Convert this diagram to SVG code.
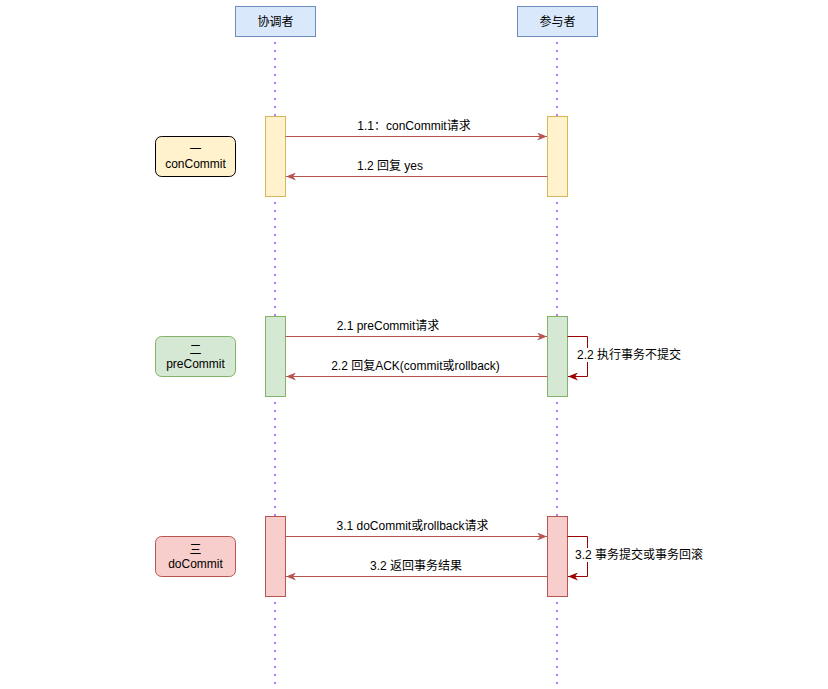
<svg xmlns="http://www.w3.org/2000/svg" width="828" height="689" viewBox="0 0 828 689">
<style>
text{font-family:"Liberation Sans","Noto Sans CJK SC",sans-serif;font-size:12px;fill:#000;}
.c{text-anchor:middle;}
.head{fill:#dae8fc;stroke:#6c8ebf;stroke-width:1;}
.life{stroke:#b47cff;stroke-width:2;stroke-dasharray:2 6;fill:none;}
.y{fill:#fff2cc;stroke:#d6b656;}
.g{fill:#d5e8d4;stroke:#82b366;}
.r{fill:#f8cecc;stroke:#b85450;}
.msg{stroke:#b85450;stroke-width:1;fill:none;marker-end:url(#ah);}
.loop{stroke:#990000;stroke-width:1;fill:none;marker-end:url(#ahd);}
</style>
<defs>
<marker id="ah" markerWidth="10" markerHeight="8" refX="10" refY="4" orient="auto" markerUnits="userSpaceOnUse">
<path d="M0,0 L10,4 L0,8 L3,4 z" fill="#b85450"/>
</marker>
<marker id="ahd" markerWidth="10" markerHeight="8" refX="10" refY="4" orient="auto" markerUnits="userSpaceOnUse">
<path d="M0,0 L10,4 L0,8 L3,4 z" fill="#990000"/>
</marker>
</defs>
<rect width="828" height="689" fill="#fff"/>
<g id="lifelines">
<line class="life" x1="275" y1="42" x2="275" y2="689"/>
<line class="life" x1="557" y1="42" x2="557" y2="689"/>
</g>
<g id="coordinator">
<rect class="head" x="235.5" y="6.5" width="80" height="30"/>
<text class="c" x="275.5" y="25.5">协调者</text>
</g>
<g id="participant">
<rect class="head" x="517.5" y="6.5" width="80" height="30"/>
<text class="c" x="557.5" y="25.5">参与者</text>
</g>
<g id="act-c1"><rect class="y" x="265.5" y="116.5" width="20" height="80"/></g>
<g id="act-p1"><rect class="y" x="547.5" y="116.5" width="20" height="80"/></g>
<g id="act-c2"><rect class="g" x="265.5" y="316.5" width="20" height="80"/></g>
<g id="act-p2"><rect class="g" x="547.5" y="316.5" width="20" height="80"/></g>
<g id="act-c3"><rect class="r" x="265.5" y="516.5" width="20" height="80"/></g>
<g id="act-p3"><rect class="r" x="547.5" y="516.5" width="20" height="80"/></g>
<g id="phase1">
<rect x="155.5" y="136.5" width="80" height="40" rx="6" fill="#fff2cc" stroke="#000"/>
<text class="c" x="195.5" y="154">一</text>
<text class="c" x="195.5" y="168">conCommit</text>
</g>
<g id="phase2">
<rect x="155.5" y="336.5" width="80" height="40" rx="6" class="g"/>
<text class="c" x="195.5" y="354">二</text>
<text class="c" x="195.5" y="368">preCommit</text>
</g>
<g id="phase3">
<rect x="155.5" y="536.5" width="80" height="40" rx="6" class="r"/>
<text class="c" x="195.5" y="554">三</text>
<text class="c" x="195.5" y="568">doCommit</text>
</g>
<g id="connectors">
<line class="msg" x1="285.5" y1="136.5" x2="547" y2="136.5"/>
<line class="msg" x1="547.5" y1="176.5" x2="286" y2="176.5"/>
<line class="msg" x1="285.5" y1="336.5" x2="547" y2="336.5"/>
<line class="msg" x1="547.5" y1="376.5" x2="286" y2="376.5"/>
<path class="loop" d="M567.5,336.5 H587.5 V376.5 H568"/>
<line class="msg" x1="285.5" y1="536.5" x2="547" y2="536.5"/>
<line class="msg" x1="547.5" y1="576.5" x2="286" y2="576.5"/>
<path class="loop" d="M567.5,536.5 H587.5 V576.5 H568"/>
<text class="c" x="414" y="130">1.1：conCommit请求</text>
<text class="c" x="390" y="170">1.2 回复 yes</text>
<text class="c" x="388" y="330">2.1 preCommit请求</text>
<text class="c" x="415.5" y="370">2.2 回复ACK(commit或rollback)</text>
<rect x="577" y="348" width="106" height="14" fill="#fff"/>
<text x="577" y="359">2.2 执行事务不提交</text>
<text class="c" x="412.5" y="530">3.1 doCommit或rollback请求</text>
<text class="c" x="416" y="570">3.2 返回事务结果</text>
<rect x="575" y="548" width="128" height="14" fill="#fff"/>
<text x="575" y="559">3.2 事务提交或事务回滚</text>
</g>
</svg>
